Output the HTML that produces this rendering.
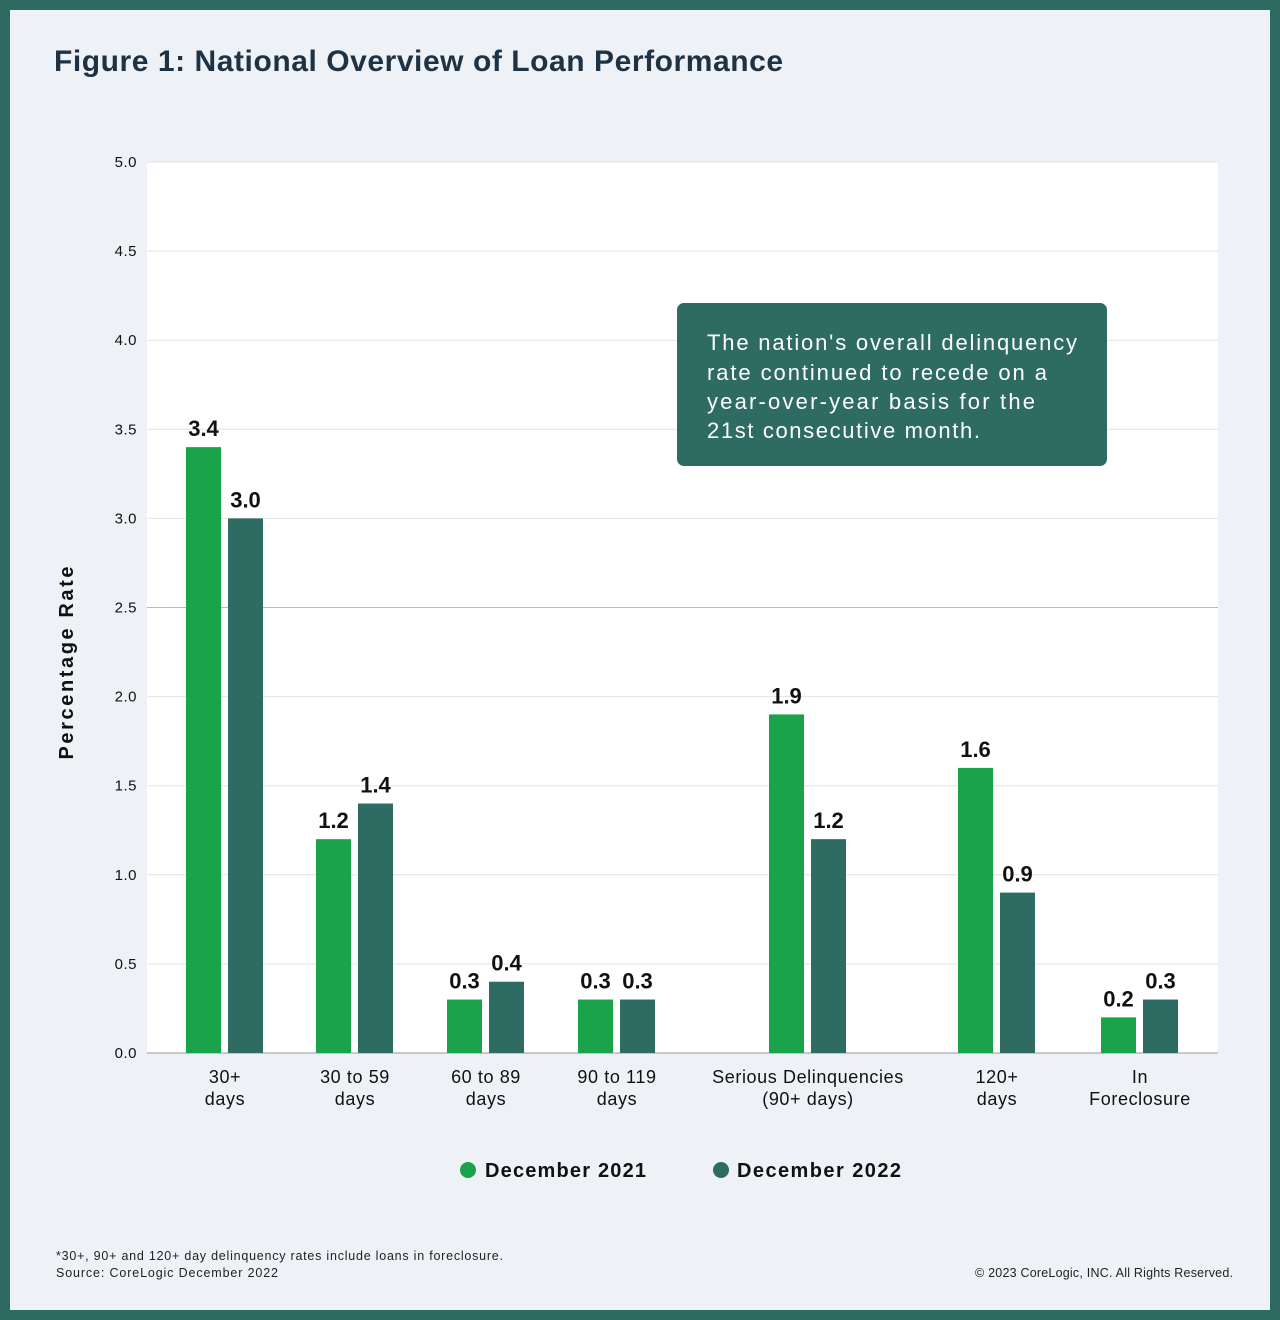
<!DOCTYPE html>
<html><head><meta charset="utf-8"><style>
html,body{margin:0;padding:0}
body{width:1280px;height:1320px;position:relative;background:#2e6b62;font-family:"Liberation Sans",sans-serif;overflow:hidden}
#inner{position:absolute;left:10px;top:10px;width:1260px;height:1300px;background:#eef1f5}
svg{position:absolute;left:0;top:0}
</style></head><body>
<div id="inner"></div>
<svg id="chart" width="1280" height="1320">
<text x="54" y="71" font-size="30" font-weight="bold" fill="#1d3245" textLength="729" lengthAdjust="spacing">Figure 1: National Overview of Loan Performance</text>
<rect x="147" y="162" width="1071" height="891" fill="#ffffff"/>
<g id="grid"></g><g id="bars"></g><g id="xlabels"></g>
<text transform="translate(73,663) rotate(-90)" text-anchor="middle" font-size="20" font-weight="bold" fill="#111" textLength="193" lengthAdjust="spacing">Percentage Rate</text>
<rect x="677" y="303" width="430" height="163" rx="7" fill="#2e6b62"/>
<g font-size="22" fill="#fff">
<text x="707" y="350" textLength="370" lengthAdjust="spacing">The nation's overall delinquency</text>
<text x="707" y="380" textLength="340" lengthAdjust="spacing">rate continued to recede on a</text>
<text x="707" y="409" textLength="328" lengthAdjust="spacing">year-over-year basis for the</text>
<text x="707" y="438" textLength="273" lengthAdjust="spacing">21st consecutive month.</text>
</g>
<circle cx="468" cy="1170" r="8" fill="#1aa34a"/>
<text x="485" y="1177" font-size="20" font-weight="bold" fill="#111" textLength="161" lengthAdjust="spacing">December 2021</text>
<circle cx="721" cy="1170" r="8" fill="#2e6b62"/>
<text x="737" y="1177" font-size="20" font-weight="bold" fill="#111" textLength="164" lengthAdjust="spacing">December 2022</text>
<text x="56" y="1260" font-size="12.5" fill="#222" textLength="447" lengthAdjust="spacing">*30+, 90+ and 120+ day delinquency rates include loans in foreclosure.</text>
<text x="56" y="1277" font-size="12.5" fill="#222" textLength="222" lengthAdjust="spacing">Source: CoreLogic December 2022</text>
<text x="975" y="1277" font-size="12.5" fill="#222" textLength="258" lengthAdjust="spacing">© 2023 CoreLogic, INC. All Rights Reserved.</text>
</svg>
<script>
const categories=[["30+","days"],["30 to 59","days"],["60 to 89","days"],["90 to 119","days"],["Serious Delinquencies","(90+ days)"],["120+","days"],["In","Foreclosure"]];
const dec2021=[3.4,1.2,0.3,0.3,1.9,1.6,0.2];
const dec2022=[3.0,1.4,0.4,0.3,1.2,0.9,0.3];
const yTicks=[0,0.5,1,1.5,2,2.5,3,3.5,4,4.5,5];
const groupCenters=[225,355,486,617,808,997,1140];
const NS="http://www.w3.org/2000/svg";
const y=v=>1053-v*178.2;
function mk(tag,attrs,parent){const e=document.createElementNS(NS,tag);for(const k in attrs)e.setAttribute(k,attrs[k]);parent.appendChild(e);return e;}
const grid=document.getElementById('grid'),bars=document.getElementById('bars'),xl=document.getElementById('xlabels');
yTicks.forEach(t=>{
 const l=mk('line',{x1:147,x2:1218,y1:y(t),y2:y(t),stroke:t===2.5?'#bbb':'#e2e2e2','stroke-width':1},grid);
 
 
 const tx=mk('text',{x:137,y:y(t)+5,'text-anchor':'end','font-size':15,'letter-spacing':0.5,fill:'#111'},grid);
 tx.textContent=t.toFixed(1);
 
 
});
const bw=35;
categories.forEach((c,i)=>{
 const cx=groupCenters[i];
 [[dec2021[i],cx-39,'#1aa34a','bar-2021'],[dec2022[i],cx+3,'#2e6b62','bar-2022']].forEach(([v,x,col,nm])=>{
  const r=mk('rect',{x:x,y:y(v),width:bw,height:y(0)-y(v),fill:col},bars);
  
  
  const t=mk('text',{x:x+bw/2,y:y(v)-11,'text-anchor':'middle','font-size':22,'font-weight':'bold',fill:'#111'},bars);
  t.textContent=v.toFixed(1);
  
  
 });
 c.forEach((s,j)=>{
  const t=mk('text',{x:cx,y:1083+j*22,'text-anchor':'middle','font-size':18,'letter-spacing':0.6,fill:'#111'},xl);
  t.textContent=s;
  
  
 });
});
const base=mk('line',{x1:147,x2:1218,y1:1053,y2:1053,stroke:'#999','stroke-width':1},grid);


</script>
</body></html>
